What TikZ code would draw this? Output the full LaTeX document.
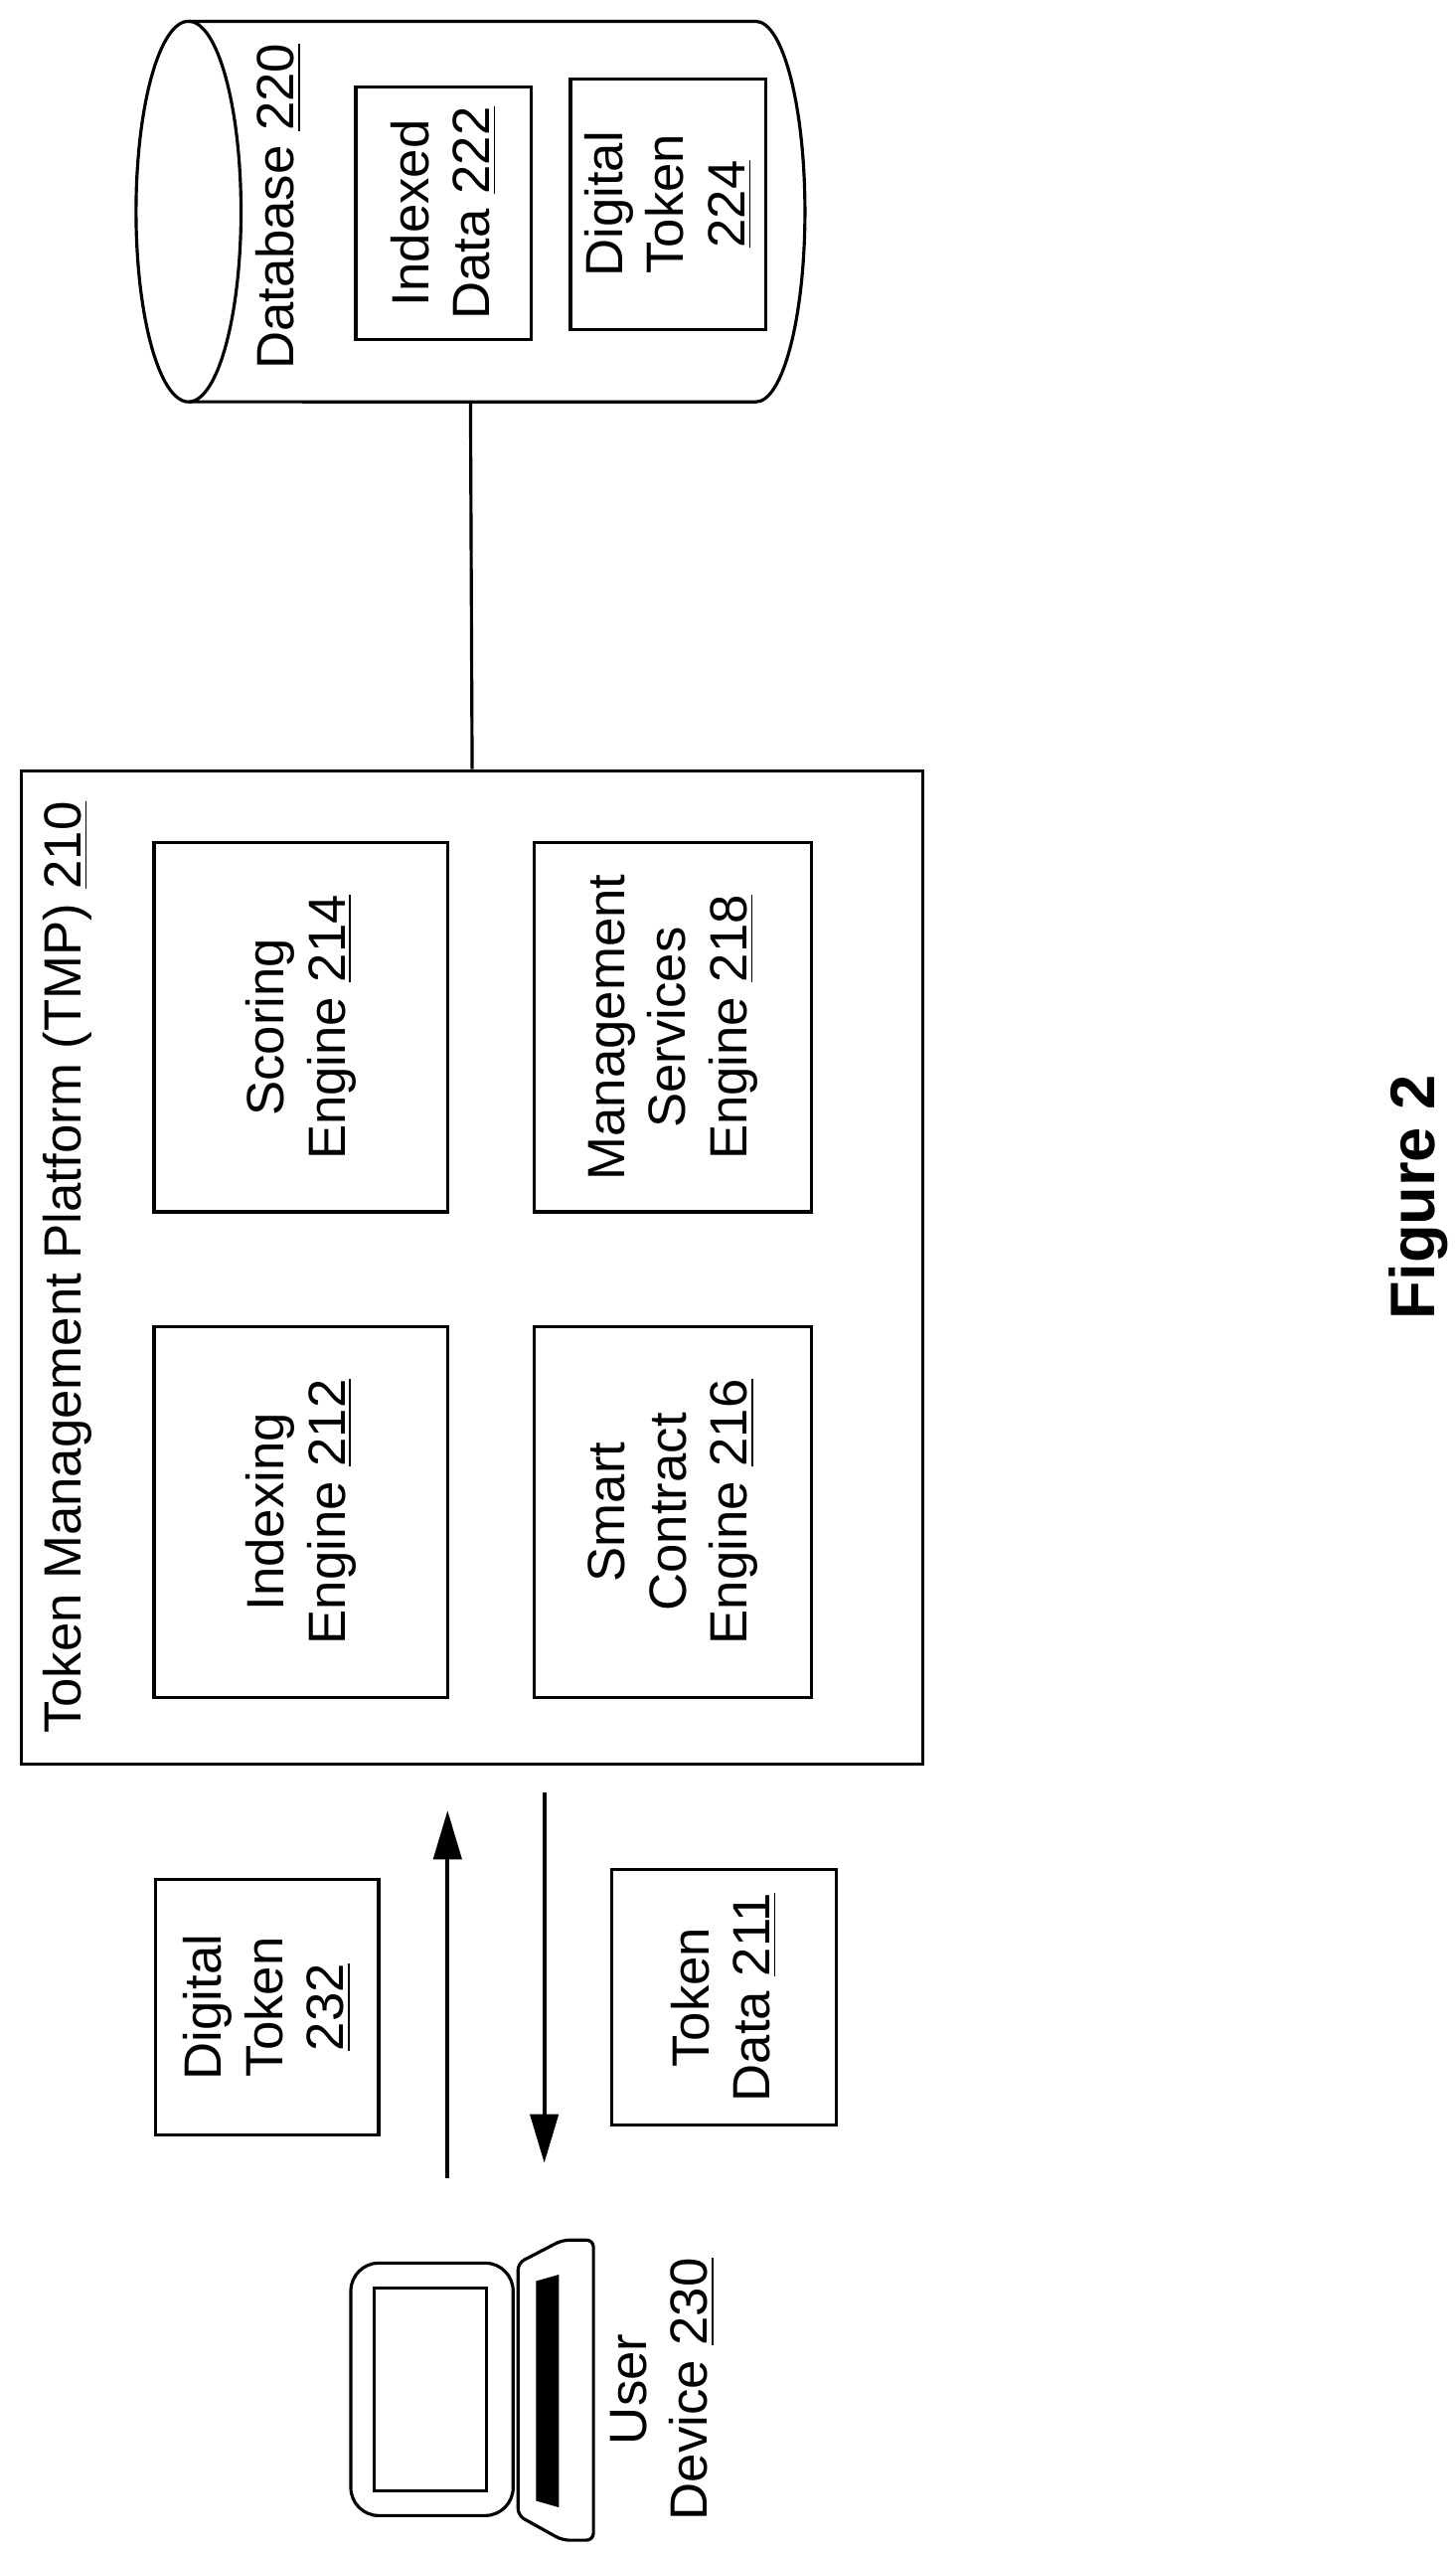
\documentclass[tikz,border=0pt]{standalone}
\usepackage{fontspec}
\setmainfont{Liberation Sans}
\usetikzlibrary{arrows.meta}
\begin{document}
\begin{tikzpicture}[x=0.0165cm,y=0.0165cm,
  box/.style={draw,line width=0.9pt,inner sep=0pt},
  lbl/.style={rotate=90,align=center,font=\fontsize{15}{17.5}\selectfont},
  arr/.style={line width=1.2pt,-{Triangle[length=14pt,width=8pt]}}]
\useasboundingbox (0,0) rectangle (888,-1555);
% database cylinder
\draw[line width=0.9pt] (115,-13) -- (461,-13) arc[start angle=90,end angle=-90,x radius=0.495cm,y radius=1.914cm] -- (115,-245);
\draw[line width=0.9pt] (115,-129) ellipse[x radius=0.528cm,y radius=1.914cm];
\node[lbl] (dbl) at (170,-126) {Database \underline{220}};
\coordinate (db) at (287,-245);
\node[box,minimum width=107*0.0165cm,minimum height=154*0.0165cm] (idx) at (270.5,-130) {};
\node[lbl] at (idx) {Indexed\\Data \underline{222}};
\node[box,minimum width=119*0.0165cm,minimum height=153*0.0165cm] (dt224) at (407.5,-124.5) {};
\node[lbl] at (dt224) {Digital\\Token\\\underline{224}};
% TMP
\node[box,minimum width=550*0.0165cm,minimum height=606*0.0165cm] (tmp) at (288,-773) {};
\node[lbl,anchor=center] at (41,-773) {Token Management Platform (TMP) \underline{210}};
\draw[line width=0.9pt] (db) -- (tmp.north);
\node[box,minimum width=179*0.0165cm,minimum height=225*0.0165cm] (sc) at (183.5,-626.5) {};
\node[lbl] at (sc) {Scoring\\Engine \underline{214}};
\node[box,minimum width=169*0.0165cm,minimum height=225*0.0165cm] (ms) at (410.5,-626.5) {};
\node[lbl] at (ms) {Management\\Services\\Engine \underline{218}};
\node[box,minimum width=179*0.0165cm,minimum height=226*0.0165cm] (ix) at (183.5,-922) {};
\node[lbl] at (ix) {Indexing\\Engine \underline{212}};
\node[box,minimum width=169*0.0165cm,minimum height=226*0.0165cm] (smc) at (410.5,-922) {};
\node[lbl] at (smc) {Smart\\Contract\\Engine \underline{216}};
% tokens
\node[box,minimum width=136*0.0165cm,minimum height=156*0.0165cm] (dt232) at (163,-1224) {};
\node[lbl] at (dt232) {Digital\\Token\\\underline{232}};
\node[box,minimum width=137*0.0165cm,minimum height=156*0.0165cm] (td) at (441.5,-1218) {};
\node[lbl] at (td) {Token\\Data \underline{211}};
\coordinate (ua) at (273,-1328);
\coordinate (ub) at (273,-1104);
\coordinate (da) at (332,-1093);
\coordinate (dbb) at (332,-1319);
\draw[arr] (ua) -- (ub);
\draw[arr] (da) -- (dbb);
% laptop
\draw[line width=0.9pt,rounded corners=8pt] (313,-1380) -- (214,-1380) -- (214,-1534) -- (313,-1534) -- cycle;
\draw[line width=0.9pt] (228,-1395) rectangle (297,-1519);
\draw[line width=0.9pt,rounded corners=2pt] (316,-1380) -- (343,-1366) -- (362,-1366) -- (362,-1549) -- (343,-1549) -- (316,-1534) -- cycle;
\fill (327,-1391) -- (341,-1387) -- (341,-1529) -- (327,-1525) -- cycle;
\node[lbl] (ud) at (404,-1457) {User\\Device \underline{230}};
% figure caption
\node[rotate=90,font=\fontsize{18}{20}\selectfont\bfseries] (fig) at (865,-730) {Figure 2};
\end{tikzpicture}
\end{document}
